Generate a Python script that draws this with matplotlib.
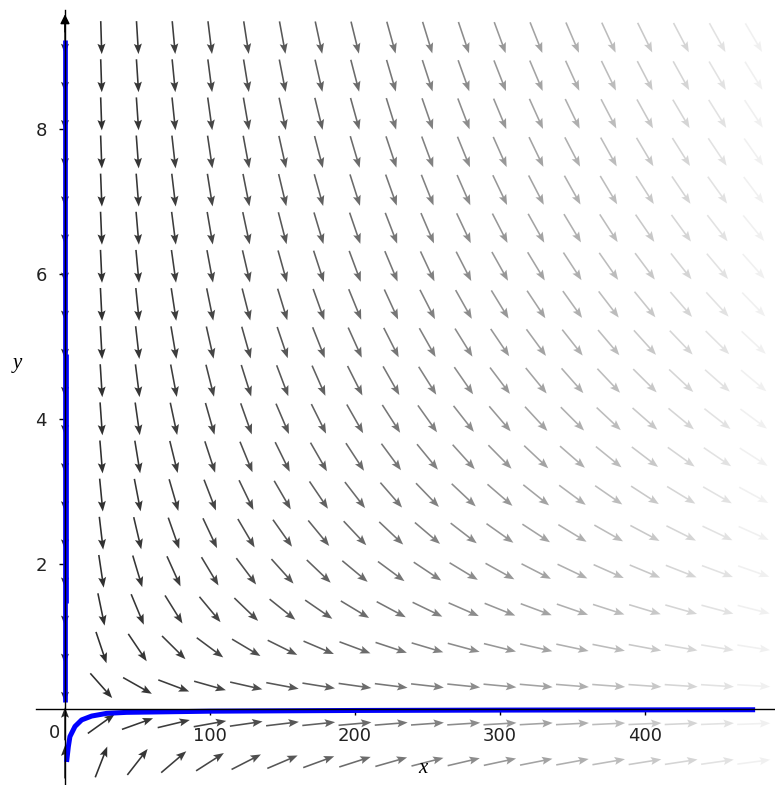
import matplotlib.pyplot as plt
import numpy as np

# direction field: x' = kx * x, y' = -y 
kx = 0.57
x_cols = np.arange(0, 500, 25)
y_rows = np.linspace(-0.73, 9.26, 20)

# solution curves
curve1_x = [1.1, 2.3, 3.4, 6.9, 11.5, 18.4, 28.7, 42.5, 100, 200, 300, 400, 476]
curve1_y = [-0.73, -0.52, -0.38, -0.24, -0.15, -0.097, -0.06, -0.046, -0.03, -0.02, -0.015, -0.012, -0.01]
curve2_x = [0, 0]
curve2_y = [0.1, 9.23]
curve3_x = [1, 1]
curve3_y = [1.46, 4.9]

xticks = [100, 200, 300, 400]
yticks = [2, 4, 6, 8]

fig = plt.figure(figsize=(7.75, 7.85), dpi=100)
ax = fig.add_axes([36 / 775, 0, 739 / 775, 775 / 785])
ax.set_xlim(-20, 489.7)
ax.set_ylim(-1.048, 9.641)

X, Y = np.meshgrid(x_cols, y_rows)
U = kx * X
V = -Y

# arrows have equal length on screen, so get the direction in display coords
p0 = ax.transData.transform(np.c_[X.ravel(), Y.ravel()])
eps = 1e-3
p1 = ax.transData.transform(np.c_[X.ravel() + eps * U.ravel(), Y.ravel() + eps * V.ravel()])
d = p1 - p0
d = d / np.hypot(d[:, 0], d[:, 1])[:, None]

mag = np.hypot(U, V).ravel()
g = 0.17 + 0.77 * (mag / mag.max()) ** 1.3
cols = [(v, v, v) for v in g]

ax.quiver(X.ravel(), Y.ravel(), d[:, 0], d[:, 1], color=cols, angles='uv',
          pivot='middle', units='dots', scale_units='dots', scale=1 / 33,
          width=1.6, headwidth=5, headlength=6.5, headaxislength=5.5, zorder=2)

ax.plot(curve2_x, curve2_y, color='#0000ff', lw=3.4, zorder=3, solid_capstyle='butt')
ax.plot(curve3_x, curve3_y, color='#0000ff', lw=3.4, zorder=3, solid_capstyle='butt')
ax.plot(curve1_x, curve1_y, color='#0000ff', lw=3.6, zorder=3, solid_capstyle='butt')

for s in ['top', 'right']:
    ax.spines[s].set_visible(False)
ax.spines['left'].set_position(('data', 0))
ax.spines['bottom'].set_position(('data', 0))
for s in ['left', 'bottom']:
    ax.spines[s].set_linewidth(1.0)
    ax.spines[s].set_zorder(5)

ax.annotate('', xy=(0, 9.62), xytext=(0, 9.3),
            arrowprops=dict(arrowstyle='-|>', color='black', lw=1.0, mutation_scale=14),
            zorder=5)

ax.set_xticks(xticks)
ax.set_yticks(yticks)
ax.tick_params(direction='out', length=4, width=1, labelsize=13, labelcolor='#222222', pad=9)
ax.text(-7, -0.33, '0', fontsize=13, color='#222222', ha='center', va='center')

ax.text(247, -0.82, 'x', fontsize=15, family='Liberation Serif', style='italic', ha='center', va='center')
ax.text(-33, 4.77, 'y', fontsize=15, family='Liberation Serif', style='italic', ha='center', va='center')

fig.savefig('out.png', dpi=100)
